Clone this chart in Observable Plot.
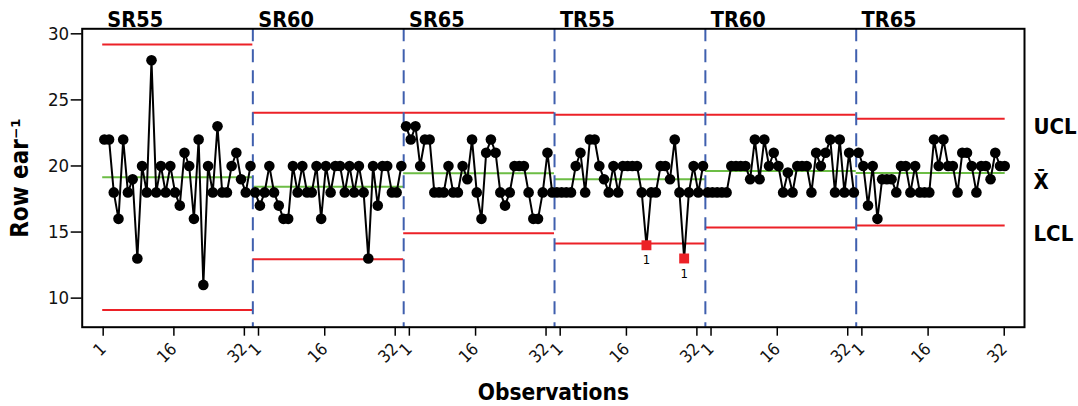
<!DOCTYPE html>
<html>
<head>
<meta charset="utf-8">
<script src="https://cdn.jsdelivr.net/npm/d3@7"></script>
<script src="https://cdn.jsdelivr.net/npm/@observablehq/plot@0.6"></script>
<style>
  html, body { margin: 0; padding: 0; background: #fff; }
  #chart svg { display: block; }
</style>
</head>
<body>
<div id="chart"></div>
<script>
// ---- data ----
const stages = ["SR55", "SR60", "SR65", "TR55", "TR60", "TR65"];
const sr55 = [22,22,18,16,22,18,19,13,20,18,28,18,20,18,20,18,17,21,20,16,22,11,20,18,23,18,18,20,21,19,18,20];
const sr60 = [18,17,18,20,18,17,16,16,20,18,20,18,18,20,16,20,18,20,20,18,20,18,20,18,13,20,17,20,20,18,18,20];
const sr65 = [23,22,23,20,22,22,18,18,18,20,18,18,20,19,22,18,16,21,22,21,18,17,18,20,20,20,18,16,16,18,21,18];
const tr55 = [18,18,18,18,20,21,18,22,22,20,19,18,20,18,20,20,20,20,18,14,18,18,20,20,19,22,18,13,18,20,18,20];
const tr60 = [18,18,18,18,18,20,20,20,20,19,22,19,22,20,21,20,18,19.5,18,20,20,20,18,21,20,21,22,18,22,18,21,18];
const tr65 = [21,20,17,20,16,19,19,19,18,20,20,18,20,18,18,18,22,20,22,20,20,18,21,21,20,18,20,20,19,21,20,20];
const centerLine = [19.15, 18.42, 19.45, 19.0, 19.62, 19.47];
const uclValues  = [29.2, 24.03, 24.03, 23.87, 23.87, 23.57];
const lclValues  = [9.1, 12.94, 14.9, 14.13, 15.34, 15.49];
const yTicks = [10, 15, 20, 25, 30];
const xTickLabels = ["1", "16", "32"];
const limitLabels = ["UCL", "X\u0304", "LCL"];

// ---- derived tables ----
const series = [sr55, sr60, sr65, tr55, tr60, tr65];
const n = 32;
const total = n * stages.length;
const rows = series.flatMap((vals, k) => vals.map((v, i) => ({
  stage: stages[k], k, obs: i + 1, index: k * n + i + 1, value: v,
  out: v > uclValues[k] || v < lclValues[k]
})));
const stageRows = stages.map((s, k) => ({
  stage: s, k,
  first: k * n + 1,
  start: k === 0 ? 0.65 : k * n + 0.5,
  end: k === stages.length - 1 ? total + 0.1 : (k + 1) * n + 0.5,
  center: centerLine[k], ucl: uclValues[k], lcl: lclValues[k]
}));
const dividers = stageRows.slice(1).map(d => d.start);

// tick positions (labels nudged apart at stage joins, as in the reference)
const xTicks = [];
const xTickText = new Map();
stages.forEach((s, k) => {
  const pos = [
    k * n + 1 + (k > 0 ? 0.7 : -0.25),
    k * n + 16 - 0.25,
    k * n + n - (k < stages.length - 1 ? 1.3 : 0.1)
  ];
  pos.forEach((p, j) => { xTicks.push(p); xTickText.set(p, xTickLabels[j]); });
});

const last = stageRows[stageRows.length - 1];
const rightLabels = [
  {text: limitLabels[0], y: last.ucl},
  {text: limitLabels[1], y: last.center},
  {text: limitLabels[2], y: last.lcl}
];

const xDomain = [-3.7, 196.2];
const yDomain = [7.8, 30.38];
const font = "'DejaVu Sans Condensed', 'DejaVu Sans', sans-serif";
const red = "#ec2127", green = "#6cbd45", blue = "#3f5fae";

const chart = Plot.plot({
  width: 1078,
  height: 406,
  marginLeft: 81.7,
  marginRight: 54,
  marginTop: 28.3,
  marginBottom: 79.3,
  x: {domain: xDomain},
  y: {domain: yDomain},
  style: {fontFamily: font, background: "#fff", color: "#000", overflow: "visible"},
  marks: [
    // control limits and center lines
    Plot.ruleY(stageRows, {y: "ucl", x1: "start", x2: "end", stroke: red, strokeWidth: 2}),
    Plot.ruleY(stageRows, {y: "lcl", x1: "start", x2: "end", stroke: red, strokeWidth: 2}),
    Plot.ruleY(stageRows, {y: "center", x1: "start", x2: "end", stroke: green, strokeWidth: 2}),
    // stage dividers
    Plot.ruleX(dividers, {x: d => d, stroke: blue, strokeWidth: 2, strokeDasharray: "13,8"}),
    // data
    Plot.line(rows, {x: "index", y: "value", z: "stage", stroke: "#000", strokeWidth: 2}),
    Plot.dot(rows.filter(d => !d.out), {x: "index", y: "value", r: 5.3, fill: "#000", stroke: "none"}),
    Plot.dot(rows.filter(d => d.out), {x: "index", y: "value", symbol: "square", r: 5.6, fill: red, stroke: "none"}),
    Plot.text(rows.filter(d => d.out), {x: "index", y: "value", text: () => "1", dy: 15, fontSize: 13, fill: "#000", fontFamily: font}),
    // frame and axes
    Plot.frame({stroke: "#000", strokeWidth: 2}),
    Plot.axisY({ticks: yTicks, tickSize: 11, tickPadding: 2, fontSize: 18.5, label: null, stroke: "#000", strokeWidth: 1.5, fill: "#111"}),
    Plot.axisX({ticks: xTicks, tickFormat: d => xTickText.get(d), tickRotate: -45, tickSize: 9, tickPadding: 10, fontSize: 17, label: null, stroke: "#000", strokeWidth: 1.5, fill: "#111"}),
    // stage labels
    Plot.text(stageRows, {x: "first", y: () => yDomain[1], text: "stage", textAnchor: "start", lineAnchor: "bottom", dx: 3, dy: -2, fontSize: 21.5, fontWeight: "bold", fill: "#000", fontFamily: font}),
    // limit labels at the right
    Plot.text(rightLabels, {x: () => xDomain[1], y: "y", text: "text", textAnchor: "start", lineAnchor: "top", dx: 9, fontSize: 22, fontWeight: "bold", fill: "#000", fontFamily: font}),
    // axis titles
    Plot.text(["Observations"], {frameAnchor: "bottom", text: d => d, lineAnchor: "bottom", dy: 73, fontSize: 22.5, fontWeight: "bold", fill: "#000", fontFamily: font}),
    Plot.text(["Row ear\u207B\u00B9"], {frameAnchor: "left", text: d => d, rotate: -90, textAnchor: "middle", lineAnchor: "middle", dx: -62, fontSize: 24, fontWeight: "bold", fill: "#000", fontFamily: font})
  ]
});
document.getElementById("chart").appendChild(chart);
</script>
</body>
</html>
